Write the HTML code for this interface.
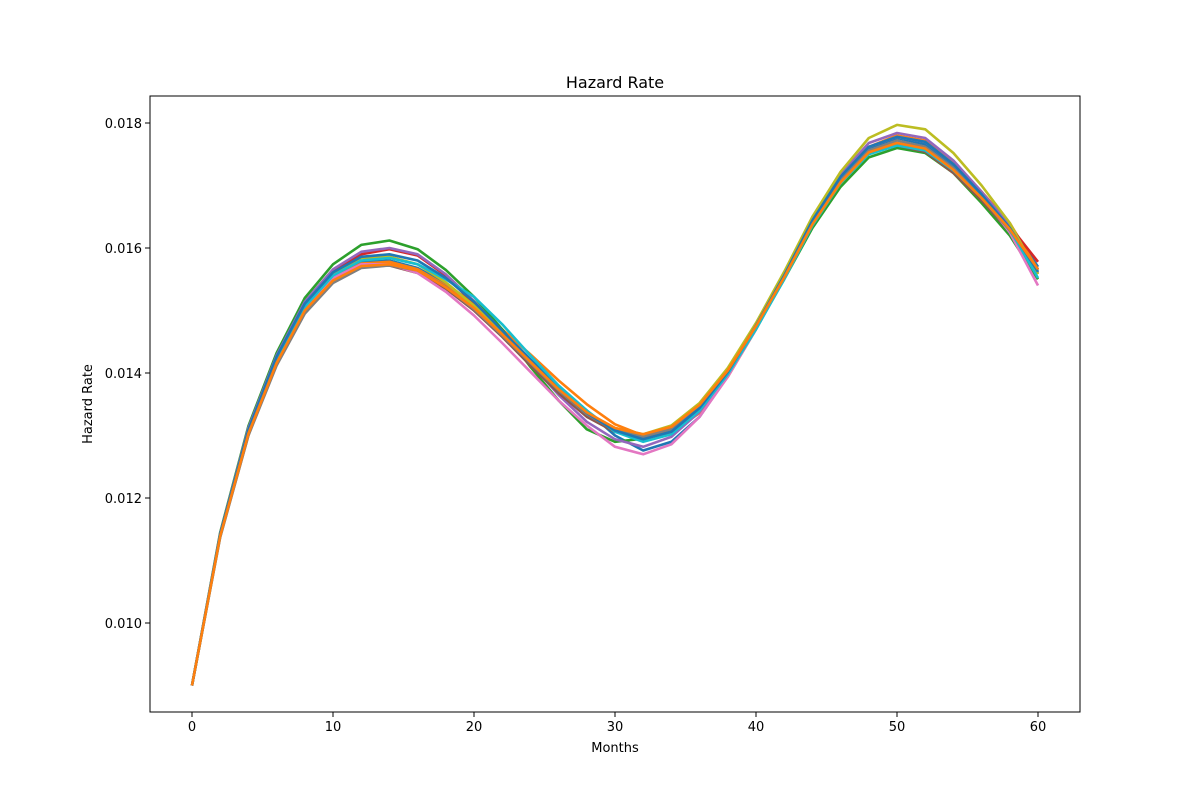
<!DOCTYPE html>
<html><head><meta charset="utf-8"><style>
body{margin:0;background:#fff;width:1200px;height:800px;overflow:hidden}
svg{font-family:"DejaVu Sans","Liberation Sans",sans-serif}
</style></head><body>
<svg id="chart" width="1200" height="800" xmlns="http://www.w3.org/2000/svg"></svg>
<script>
const months=[0,2,4,6,8,10,12,14,16,18,20,22,24,26,28,30,32,34,36,38,40,42,44,46,48,50,52,54,56,58,60];
const xTicks=[0,10,20,30,40,50,60];
const yTicks=[0.010,0.012,0.014,0.016,0.018];
const yTickLabels=["0.010","0.012","0.014","0.016","0.018"];
const colors=["#1f77b4","#ff7f0e","#2ca02c","#d62728","#9467bd","#8c564b","#e377c2","#7f7f7f","#bcbd22","#17becf"];
// values in units of 1e-5
const s1=[900,1140,1305,1420,1505,1555,1577,1580,1568,1543,1510,1468,1422,1378,1340,1300,1276,1290,1330,1395,1470,1552,1640,1710,1760,1776,1766,1732,1688,1638,1570];
const s2=[900,1138,1300,1418,1503,1552,1575,1578,1566,1540,1508,1470,1430,1388,1350,1318,1300,1304,1336,1394,1470,1552,1640,1712,1762,1780,1772,1738,1690,1640,1565];
const s3=[900,1145,1315,1432,1520,1574,1605,1612,1598,1565,1522,1470,1410,1356,1310,1290,1295,1308,1345,1400,1472,1550,1632,1698,1745,1760,1752,1720,1672,1620,1550];
const s4=[900,1142,1310,1425,1512,1562,1590,1598,1588,1556,1510,1462,1418,1372,1335,1310,1300,1314,1350,1406,1478,1556,1640,1706,1752,1766,1758,1726,1684,1635,1578];
const s5=[900,1143,1312,1428,1514,1566,1594,1600,1590,1558,1515,1466,1415,1365,1322,1294,1282,1298,1338,1398,1474,1558,1646,1718,1768,1784,1776,1740,1690,1636,1560];
const s6=[900,1141,1308,1422,1505,1550,1570,1572,1560,1535,1500,1458,1412,1368,1330,1306,1296,1310,1348,1404,1478,1558,1642,1708,1752,1764,1754,1720,1676,1626,1566];
const s7=[900,1139,1304,1418,1502,1552,1574,1574,1560,1530,1492,1448,1402,1356,1316,1282,1270,1286,1330,1394,1470,1556,1642,1712,1762,1778,1770,1734,1684,1625,1540];
const s8=[900,1137,1300,1412,1495,1544,1568,1572,1564,1538,1502,1460,1416,1372,1334,1308,1298,1310,1346,1402,1474,1554,1640,1708,1756,1772,1762,1728,1680,1628,1560];
const s9=[900,1141,1308,1424,1510,1560,1584,1586,1574,1545,1508,1464,1418,1374,1336,1312,1302,1316,1352,1408,1480,1562,1650,1722,1776,1797,1790,1752,1700,1640,1558];
const s10=[900,1140,1306,1420,1506,1556,1580,1584,1574,1550,1522,1478,1428,1380,1340,1306,1290,1302,1340,1398,1470,1550,1636,1704,1750,1764,1756,1724,1680,1630,1552];
const s11=[900,1142,1309,1426,1511,1561,1586,1590,1580,1552,1514,1468,1420,1374,1336,1308,1294,1306,1344,1402,1476,1556,1644,1714,1762,1778,1770,1734,1686,1632,1562];
const s12=[900,1139,1303,1416,1500,1548,1571,1574,1564,1537,1504,1462,1418,1374,1337,1312,1302,1314,1349,1404,1475,1553,1638,1705,1753,1768,1759,1725,1680,1630,1566];
const series=[s1,s2,s3,s4,s5,s6,s7,s8,s9,s10,s11,s12];

const NS="http://www.w3.org/2000/svg";
const svg=document.getElementById('chart');
const L=150,R=1080,T=96,B=712;
const xs=v=>192+(v-0)*(1038-192)/60;
const ys=v=>623+(v-0.010)*(123-623)/0.008;
function mk(tag,attrs,parent){const e=document.createElementNS(NS,tag);for(const k in attrs)e.setAttribute(k,attrs[k]);(parent||svg).appendChild(e);return e;}

const g=mk('g',{});


series.forEach((s,i)=>{
  const d=s.map((v,j)=>(j?'L':'M')+xs(months[j]).toFixed(1)+' '+ys(v/1e5).toFixed(1)).join(' ');
  const p=mk('path',{d:d,fill:'none',stroke:colors[i%10],'stroke-width':2.6,'stroke-linejoin':'round'},g);
  
  
});

const frame=mk('rect',{x:L,y:T,width:R-L,height:B-T,fill:'none',stroke:'#000','stroke-width':1});



xTicks.forEach(t=>{
  const x=xs(t);
  const tk=mk('line',{x1:x,x2:x,y1:B,y2:B+5,stroke:'#000'});
  
  
  const tx=mk('text',{x:x,y:B+19,'text-anchor':'middle','font-size':13});
  tx.textContent=String(t);
  
  
});
yTicks.forEach((t,i)=>{
  const y=ys(t);
  const tk=mk('line',{x1:L-5,x2:L,y1:y,y2:y,stroke:'#000'});
  
  
  const tx=mk('text',{x:L-8,y:y+5,'text-anchor':'end','font-size':13});
  tx.textContent=yTickLabels[i];
  
  
});
const title=mk('text',{x:615,y:88,'text-anchor':'middle','font-size':16});
title.textContent='Hazard Rate';


const xl=mk('text',{x:615,y:752,'text-anchor':'middle','font-size':13});
xl.textContent='Months';


const yl=mk('text',{x:0,y:0,'text-anchor':'middle','font-size':13,transform:'translate(92,404) rotate(-90)'});
yl.textContent='Hazard Rate';


</script>
</body></html>
